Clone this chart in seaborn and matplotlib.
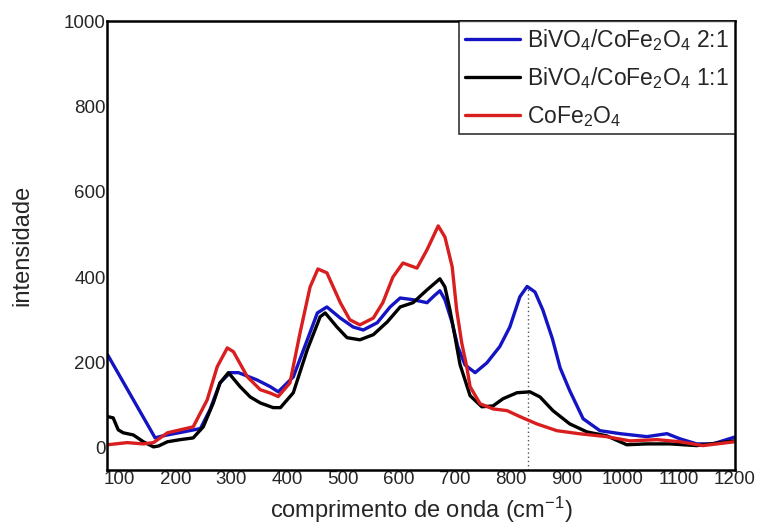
import numpy as np
import pandas as pd
import matplotlib
matplotlib.use("Agg")
import matplotlib.pyplot as plt
import seaborn as sns

# --- data ---
x_blue = [79, 120, 164, 175, 186, 214, 245, 262, 280, 298, 313, 346, 370, 384, 411, 436, 454, 471,
          495, 518, 536, 561, 584, 602, 625, 650, 661, 673, 682, 695, 705, 718, 736, 757, 780, 798,
          816, 829, 843, 857, 874, 888, 905, 929, 959, 995, 1043, 1079, 1102, 1132, 1161, 1200]
y_blue = [218, 124, 23, 27, 30, 37, 45, 89, 152, 176, 176, 159, 143, 131, 166, 253, 316, 330,
          304, 283, 276, 293, 330, 351, 347, 340, 354, 368, 347, 293, 237, 194, 176, 199, 237, 283,
          354, 378, 365, 323, 256, 187, 134, 68, 40, 33, 26, 33, 21, 9, 9, 25]

x_black = [79, 89, 98, 107, 125, 143, 161, 170, 186, 209, 232, 250, 268, 280, 295, 316, 334, 352,
           375, 388, 411, 436, 459, 468, 489, 507, 530, 554, 579, 602, 625, 650, 673, 682, 691, 700,
           709, 727, 748, 768, 786, 811, 834, 852, 875, 905, 936, 971, 1007, 1043, 1084, 1132, 1200]
y_black = [73, 70, 42, 35, 30, 14, 2, 4, 14, 19, 23, 49, 105, 152, 176, 143, 119, 105,
           94, 94, 129, 230, 307, 316, 283, 258, 253, 265, 295, 330, 340, 370, 396, 377, 323, 260,
           195, 122, 96, 98, 115, 129, 131, 119, 87, 56, 37, 28, 7, 9, 9, 5, 16]

x_red = [79, 114, 143, 161, 186, 209, 232, 257, 275, 293, 304, 329, 352, 370, 384, 405, 423, 441,
         455, 471, 495, 512, 530, 554, 571, 589, 607, 632, 650, 670, 682, 695, 703, 712, 721, 727,
         745, 768, 793, 816, 846, 882, 921, 971, 1013, 1061, 1102, 1143, 1200]
y_red = [7, 12, 9, 12, 35, 42, 49, 112, 190, 234, 225, 166, 136, 128, 120, 152, 269, 377,
         419, 410, 340, 300, 288, 304, 340, 400, 433, 421, 464, 520, 494, 424, 323, 246, 190, 143,
         103, 91, 87, 73, 56, 40, 33, 26, 16, 19, 14, 5, 14]

labels = [r"BiVO$_4$/CoFe$_2$O$_4$ 2:1", r"BiVO$_4$/CoFe$_2$O$_4$ 1:1", r"CoFe$_2$O$_4$"]
colors = ["#1414c4", "#000000", "#d81e1e"]
x_ticks = [100, 200, 300, 400, 500, 600, 700, 800, 900, 1000, 1100, 1200]
y_ticks = [0, 200, 400, 600, 800, 1000]
marker_x = 830
marker_top = 378

df = pd.concat([
    pd.DataFrame({"x": x_blue, "y": y_blue, "s": labels[0]}),
    pd.DataFrame({"x": x_black, "y": y_black, "s": labels[1]}),
    pd.DataFrame({"x": x_red, "y": y_red, "s": labels[2]}),
])

sns.set_style("white")
plt.rcParams["font.family"] = ["Liberation Sans", "DejaVu Sans"]
plt.rcParams["mathtext.fontset"] = "custom"
plt.rcParams["mathtext.rm"] = "Liberation Sans"
plt.rcParams["mathtext.it"] = "Liberation Sans"

fig = plt.figure(figsize=(7.59, 5.28), dpi=100)
ax = fig.add_axes([0.141, 0.110, 0.827, 0.850])

sns.lineplot(data=df, x="x", y="y", hue="s", palette=dict(zip(labels, colors)),
             estimator=None, sort=False, linewidth=2.4, ax=ax)
for ln in ax.get_lines():
    ln.set_solid_joinstyle("round")

ax.plot([marker_x, marker_x], [-52, marker_top], color="#555555", linestyle=(0, (1, 2)),
        linewidth=1.0, zorder=1)

ax.set_xlim(78, 1200)
ax.set_ylim(-52, 1000)
ax.set_xticks(x_ticks)
ax.set_yticks(y_ticks)
ax.tick_params(axis="both", length=0, labelsize=13.5, pad=1)
for sp in ax.spines.values():
    sp.set_color("black")
    sp.set_linewidth(1.8)

ax.set_xlabel(r"comprimento de onda (cm$^{-1}$)", fontsize=17, labelpad=5)
ax.set_ylabel("intensidade", fontsize=17, labelpad=22)

leg = ax.legend(loc="upper right", fontsize=16.5, frameon=True, fancybox=False,
                borderaxespad=0, handlelength=2.4, handletextpad=0.3,
                borderpad=0.25, labelspacing=0.55)
leg.get_frame().set_edgecolor("black")
leg.get_frame().set_linewidth(1.2)
for line in leg.get_lines():
    line.set_linewidth(2.4)

fig.savefig("out.png", dpi=100)
